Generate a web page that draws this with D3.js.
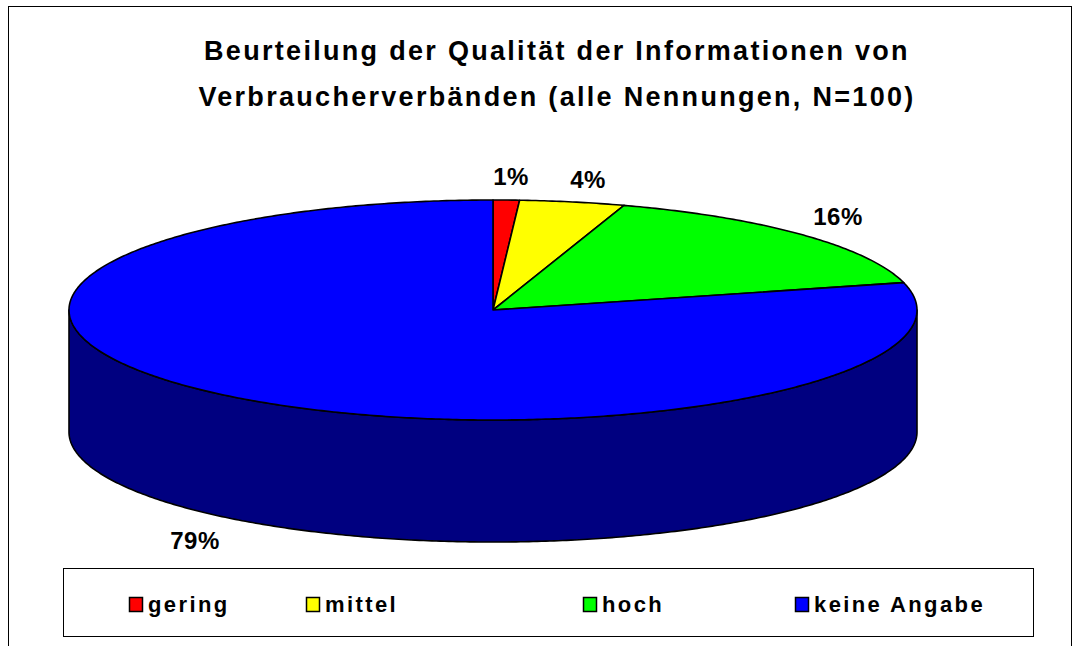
<!DOCTYPE html>
<html>
<head>
<meta charset="utf-8">
<script src="https://cdn.jsdelivr.net/npm/d3@7"></script>
<style>
  body { margin: 0; background: #fff; }
  text { font-family: "Liberation Sans", Arial, sans-serif; font-weight: bold; fill: #000; }
</style>
</head>
<body>
<script>
var categories = ["gering", "mittel", "hoch", "keine Angabe"];
var values = [1, 4, 16, 79];
var labels = ["1%", "4%", "16%", "79%"];
var topColors = ["#ff0000", "#ffff00", "#00ff00", "#0000ff"];
var sideColors = ["#800000", "#808000", "#008000", "#000080"];
var titleLines = ["Beurteilung der Qualität der Informationen von",
                  "Verbraucherverbänden (alle Nennungen, N=100)"];

var width = 1080, height = 646;
var cx = 493, cy = 310, rx = 424, ry = 110, depth = 122;

// unit circle -> ellipse
var sx = d3.scaleLinear().domain([-1, 1]).range([cx - rx, cx + rx]);
var sy = d3.scaleLinear().domain([-1, 1]).range([cy - ry, cy + ry]);

function pt(a, dz) {
  return [sx(Math.sin(a)), sy(-Math.cos(a)) + (dz || 0)];
}

function arcPts(a0, a1, dz) {
  var n = Math.max(2, Math.ceil((a1 - a0) / 0.01));
  return d3.range(n + 1).map(function(i) { return pt(a0 + (a1 - a0) * i / n, dz); });
}

var line = d3.line();

var pie = d3.pie().sort(null).value(function(d) { return d; });
var arcs = pie(values);

var svg = d3.select("body").append("svg")
    .attr("width", width)
    .attr("height", height);

// outer frame
svg.append("rect")
    .attr("x", 8.5).attr("y", 6.5)
    .attr("width", 1063).attr("height", 660)
    .attr("fill", "#fff").attr("stroke", "#000").attr("stroke-width", 1);

// title
svg.append("g").selectAll("text")
    .data(titleLines)
  .enter().append("text")
    .attr("x", 557)
    .attr("y", function(d, i) { return 60 + i * 46; })
    .attr("text-anchor", "middle")
    .style("font-size", "27px")
    .style("letter-spacing", "2.3px")
    .text(function(d) { return d; });

var pieG = svg.append("g");

// side walls (visible front half only)
arcs.forEach(function(d, i) {
  var a0 = Math.max(d.startAngle, Math.PI / 2),
      a1 = Math.min(d.endAngle, 3 * Math.PI / 2);
  if (a1 <= a0) return;
  var topEdge = arcPts(a0, a1, 0),
      botEdge = arcPts(a0, a1, depth).reverse();
  pieG.append("path")
      .attr("d", line(topEdge.concat(botEdge)) + "Z")
      .attr("fill", sideColors[i])
      .attr("stroke", "#000")
      .attr("stroke-width", 1.6)
      .attr("stroke-linejoin", "round");
});

// top faces
arcs.forEach(function(d, i) {
  var p = [[cx, cy]].concat(arcPts(d.startAngle, d.endAngle, 0));
  pieG.append("path")
      .attr("d", line(p) + "Z")
      .attr("fill", topColors[i])
      .attr("stroke", "#000")
      .attr("stroke-width", 1.6)
      .attr("stroke-linejoin", "round");
});

// percent labels
var labelPos = [[511, 185], [588, 188], [838, 225], [195, 549]];
svg.append("g").selectAll("text")
    .data(labels)
  .enter().append("text")
    .attr("x", function(d, i) { return labelPos[i][0]; })
    .attr("y", function(d, i) { return labelPos[i][1]; })
    .attr("text-anchor", "middle")
    .style("font-size", "24px")
    .style("letter-spacing", "0.5px")
    .text(function(d) { return d; });

// legend
var legend = svg.append("g");
legend.append("rect")
    .attr("x", 63.5).attr("y", 568.5)
    .attr("width", 970).attr("height", 68)
    .attr("fill", "#fff").attr("stroke", "#000").attr("stroke-width", 1);

var legendX = [129, 306, 583, 795];
var items = legend.selectAll("g.item")
    .data(categories)
  .enter().append("g")
    .attr("class", "item")
    .attr("transform", function(d, i) { return "translate(" + legendX[i] + ",597)"; });

items.append("rect")
    .attr("x", 0.5).attr("y", 0.5)
    .attr("width", 13).attr("height", 14)
    .attr("fill", function(d, i) { return topColors[i]; })
    .attr("stroke", "#000").attr("stroke-width", 1.5);

items.append("text")
    .attr("x", 19)
    .attr("y", 15)
    .style("font-size", "22px")
    .style("letter-spacing", "2.4px")
    .text(function(d) { return d; });
</script>
</body>
</html>
